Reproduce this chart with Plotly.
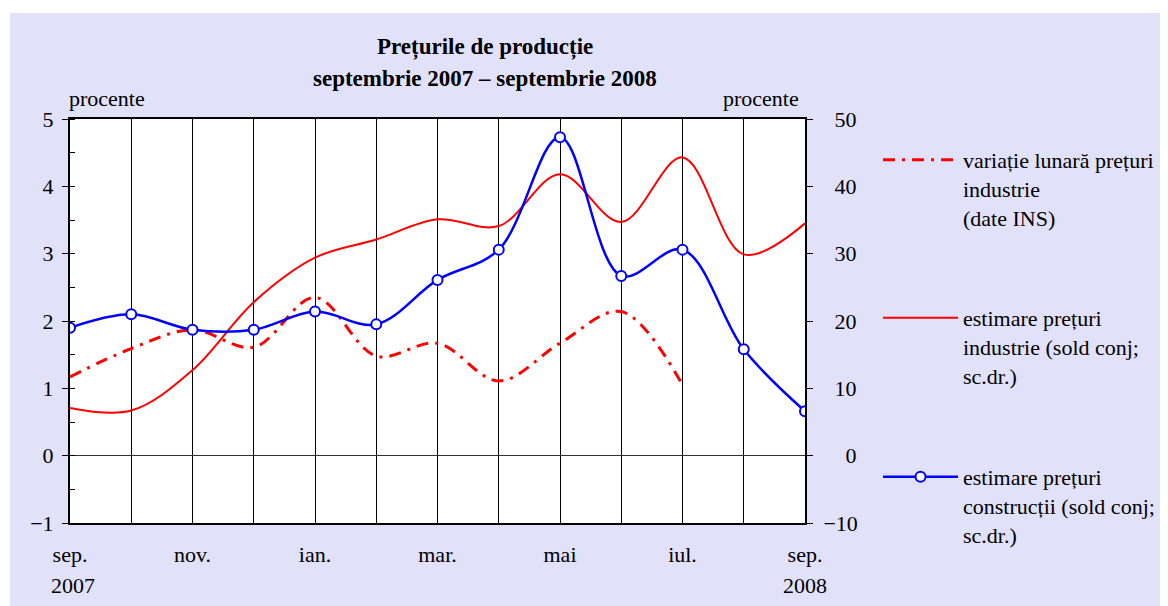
import plotly.graph_objects as go

# ---------------- data ----------------
months = ["sep. 2007", "oct. 2007", "nov. 2007", "dec. 2007", "ian. 2008", "feb. 2008",
          "mar. 2008", "apr. 2008", "mai 2008", "iun. 2008", "iul. 2008", "aug. 2008", "sep. 2008"]
tick_labels = ["sep.", "", "nov.", "", "ian.", "", "mar.", "", "mai", "", "iul.", "", "sep."]

variatie_lunara = [1.17, 1.59, 1.87, 1.61, 2.35, 1.48, 1.67, 1.11, 1.67, 2.14, 1.05, None, None]
estimare_industrie = [7.1, 6.7, 12.7, 22.8, 29.4, 32.1, 35.1, 34.1, 41.8, 34.7, 44.3, 29.9, 34.5]
estimare_constructii = [19.0, 21.0, 18.7, 18.7, 21.4, 19.5, 26.1, 30.6, 47.3, 26.7, 30.6, 15.8, 6.6]

left_ticks = [-1, 0, 1, 2, 3, 4, 5]
right_ticks = [-10, 0, 10, 20, 30, 40, 50]
right_ticktext = ["−10", "\u2007\u20020", "\u200210", "\u200220", "\u200230", "\u200240", "\u200250"]
left_ticktext = ["−1", "0", "1", "2", "3", "4", "5"]

names = ["variație lunară prețuri<br>industrie<br>(date INS)",
         "estimare prețuri<br>industrie (sold conj;<br>sc.dr.)",
         "estimare prețuri<br>construcții (sold conj;<br>sc.dr.)"]

FONT = "Liberation Serif"
FS = 22
OFF = 8                      # page body margin
W, H = 1168 - OFF, 606 - OFF
# plot area in page pixels
PL, PR, PT, PB = 70, 805, 119, 523
L, R, T, B = PL - OFF, PR - OFF, PT - OFF, PB - OFF

def px_x(p):   # page px -> paper x
    return (p - PL) / (PR - PL)

def px_y(p):   # page px -> paper y
    return (PB - p) / (PB - PT)

def cx(p):     # page px -> container x
    return (p - OFF) / W

def cy(p):     # page px -> container y
    return 1 - (p - OFF) / H

fig = go.Figure()
fig.add_trace(go.Scatter(
    x=months, y=variatie_lunara, name=names[0], mode="lines",
    line=dict(color="#ff0000", width=3, dash="12px,7px,3px,7px", shape="spline", smoothing=1.0),
    yaxis="y", legend="legend"))
fig.add_trace(go.Scatter(
    x=months, y=estimare_industrie, name=names[1], mode="lines",
    line=dict(color="#ff0000", width=2, shape="spline", smoothing=1.0),
    yaxis="y2", legend="legend2"))
fig.add_trace(go.Scatter(
    x=months, y=estimare_constructii, name=names[2], mode="lines+markers",
    line=dict(color="#0000ff", width=2.5, shape="spline", smoothing=1.0),
    marker=dict(symbol="circle", size=10, color="white", line=dict(color="#0000ff", width=2)),
    yaxis="y2", legend="legend3"))

leg_common = dict(xref="container", yref="container", xanchor="left", yanchor="top",
                  bgcolor="rgba(0,0,0,0)", font=dict(family=FONT, size=FS, color="black"),
                  itemwidth=75, valign="top")

annotations = [
    dict(text="<b>Prețurile de producție</b>", x=px_x(485), y=px_y(47), size=FS + 1),
    dict(text="<b>septembrie 2007 – septembrie 2008</b>", x=px_x(485), y=px_y(79), size=FS + 1),
    dict(text="procente", x=px_x(107), y=px_y(99), size=FS),
    dict(text="procente", x=px_x(761), y=px_y(99), size=FS),
    dict(text="2007", x=px_x(73), y=px_y(585), size=FS),
    dict(text="2008", x=px_x(805), y=px_y(585), size=FS),
]
ann = []
for a in annotations:
    s = a.pop("size")
    a.update(xref="paper", yref="paper", showarrow=False, xanchor="center", yanchor="middle",
             font=dict(family=FONT, size=s, color="black"))
    ann.append(a)

fig.update_layout(
    width=W, height=H,
    margin=dict(l=L, r=W - R, t=T, b=H - B, pad=0),
    paper_bgcolor="#e1e1fa",
    plot_bgcolor="white",
    font=dict(family=FONT, size=FS, color="black"),
    showlegend=True,
    legend=dict(x=cx(878), y=cy(139), **leg_common),
    legend2=dict(x=cx(878), y=cy(297), **leg_common),
    legend3=dict(x=cx(878), y=cy(456), **leg_common),
    annotations=ann,
    xaxis=dict(
        type="category", categoryorder="array", categoryarray=months,
        range=[0, 12], tickmode="array", tickvals=months, ticktext=tick_labels,
        showgrid=True, gridcolor="black", gridwidth=1,
        showline=True, linecolor="black", linewidth=1.5, mirror=True,
        ticks="", ticklabelstandoff=11, tickangle=0,
        tickfont=dict(family=FONT, size=FS, color="black"),
    ),
    yaxis=dict(
        range=[-1, 5], tickmode="array", tickvals=left_ticks, ticktext=left_ticktext,
        showgrid=False,
        zeroline=True, zerolinecolor="#333333", zerolinewidth=1,
        showline=True, linecolor="black", linewidth=2,
        ticks="outside", ticklen=6, tickcolor="black", tickwidth=1, ticklabelstandoff=4,
        minor=dict(dtick=0.5, tick0=0, ticks="inside", ticklen=5, tickcolor="black", tickwidth=1, showgrid=False),
        tickfont=dict(family=FONT, size=FS, color="black"),
    ),
    yaxis2=dict(
        range=[-10, 50], tickmode="array", tickvals=right_ticks, ticktext=right_ticktext,
        overlaying="y", side="right", showgrid=False, zeroline=False,
        showline=True, linecolor="black", linewidth=2,
        ticks="outside", ticklen=6, tickcolor="black", tickwidth=1, ticklabelstandoff=6,
        tickfont=dict(family=FONT, size=FS, color="black"),
    ),
    shapes=[
        dict(type="rect", xref="paper", yref="paper", x0=px_x(0), x1=px_x(1200), y0=px_y(0), y1=px_y(13),
             fillcolor="white", line=dict(width=0), layer="below"),
        dict(type="rect", xref="paper", yref="paper", x0=px_x(0), x1=px_x(10), y0=px_y(0), y1=px_y(700),
             fillcolor="white", line=dict(width=0), layer="below"),
    ],
)

fig.write_html("out.html")
